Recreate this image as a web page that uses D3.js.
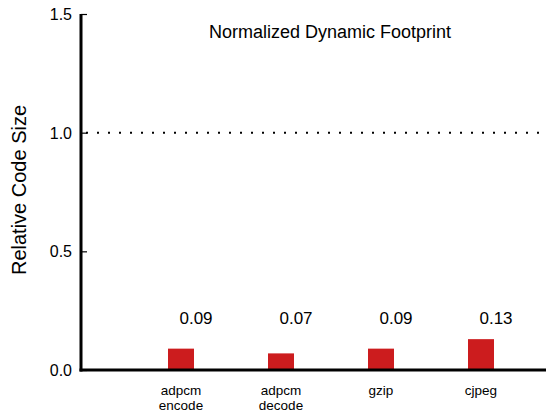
<!DOCTYPE html>
<html>
<head>
<script type="text/javascript" src="https://cdn.jsdelivr.net/npm/d3@7/dist/d3.min.js"></script>
<style>
  body { margin: 0; background: white; }
  text { font-family: "Liberation Sans", Arial, sans-serif; fill: #000; }
</style>
</head>
<body>
<script>

var width = 546,
    height = 413;

// chart data
var categories = ["adpcm encode", "adpcm decode", "gzip", "cjpeg"];
var catLines   = [["adpcm", "encode"], ["adpcm", "decode"], ["gzip"], ["cjpeg"]];
var values     = [0.09, 0.07, 0.09, 0.13];
var yTicks     = [0.0, 0.5, 1.0, 1.5];
var refLine    = 1.0;
var title      = "Normalized Dynamic Footprint";
var yTitle     = "Relative Code Size";

var svg = d3.select("body")
            .append("svg")
            .attr("width", width)
            .attr("height", height);

var y = d3.scaleLinear()
          .domain([0, 1.5])
          .range([370, 14]);

var x = d3.scaleBand()
          .domain(categories)
          .range([131, 531])
          .padding(0);

var barW = 26;

// dotted reference line at 1.0
svg.append("line")
   .attr("x1", 86)
   .attr("x2", width)
   .attr("y1", y(refLine))
   .attr("y2", y(refLine))
   .style("stroke", "#000")
   .style("stroke-width", 2)
   .style("stroke-dasharray", "2,9");

// bars
svg.selectAll("rect.bar")
   .data(values)
   .enter()
   .append("rect")
   .attr("class", "bar")
   .attr("x", function (d, i) { return x(categories[i]) + x.bandwidth() / 2 - barW / 2; })
   .attr("y", function (d) { return y(d); })
   .attr("width", barW)
   .attr("height", function (d) { return y(0) - y(d); })
   .style("fill", "#cc1c1e");

// value labels
svg.selectAll("text.val")
   .data(values)
   .enter()
   .append("text")
   .attr("class", "val")
   .attr("x", function (d, i) { return x(categories[i]) + x.bandwidth() / 2 + 15; })
   .attr("y", 324)
   .attr("text-anchor", "middle")
   .style("font-size", "17px")
   .text(function (d) { return d.toFixed(2); });

// y axis
var yAxis = d3.axisRight(y)
              .tickValues(yTicks)
              .tickSize(6)
              .tickFormat("");

var ag = svg.append("g")
            .attr("transform", "translate(81,0)")
            .call(yAxis);
ag.select(".domain").remove();
ag.selectAll(".tick line").style("stroke", "#000").style("stroke-width", 1.2);

svg.append("line")
   .attr("x1", 81).attr("x2", 81)
   .attr("y1", y(1.5)).attr("y2", y(0) + 1.5)
   .style("stroke", "#000")
   .style("stroke-width", 3);

svg.append("line")
   .attr("x1", 79.5).attr("x2", width)
   .attr("y1", y(0)).attr("y2", y(0))
   .style("stroke", "#000")
   .style("stroke-width", 3);

svg.selectAll("text.ytick")
   .data(yTicks)
   .enter()
   .append("text")
   .attr("class", "ytick")
   .attr("x", 72)
   .attr("y", function (d) { return y(d) + 6; })
   .attr("text-anchor", "end")
   .style("font-size", "16px")
   .text(function (d) { return d.toFixed(1); });

// category labels
var cg = svg.selectAll("text.cat")
            .data(catLines)
            .enter()
            .append("text")
            .attr("class", "cat")
            .attr("text-anchor", "middle")
            .style("font-size", "13.5px");
cg.selectAll("tspan")
  .data(function (d, i) { return d.map(function (s) { return { s: s, i: i }; }); })
  .enter()
  .append("tspan")
  .attr("x", function (d) { return x(categories[d.i]) + x.bandwidth() / 2; })
  .attr("y", function (d, j) { return 395 + j * 14.5; })
  .text(function (d) { return d.s; });

// titles
svg.append("text")
   .attr("x", 330)
   .attr("y", 38)
   .attr("text-anchor", "middle")
   .style("font-size", "18px")
   .text(title);

svg.append("text")
   .attr("transform", "translate(26,190) rotate(-90)")
   .attr("text-anchor", "middle")
   .style("font-size", "20px")
   .text(yTitle);

</script>
</body>
</html>
